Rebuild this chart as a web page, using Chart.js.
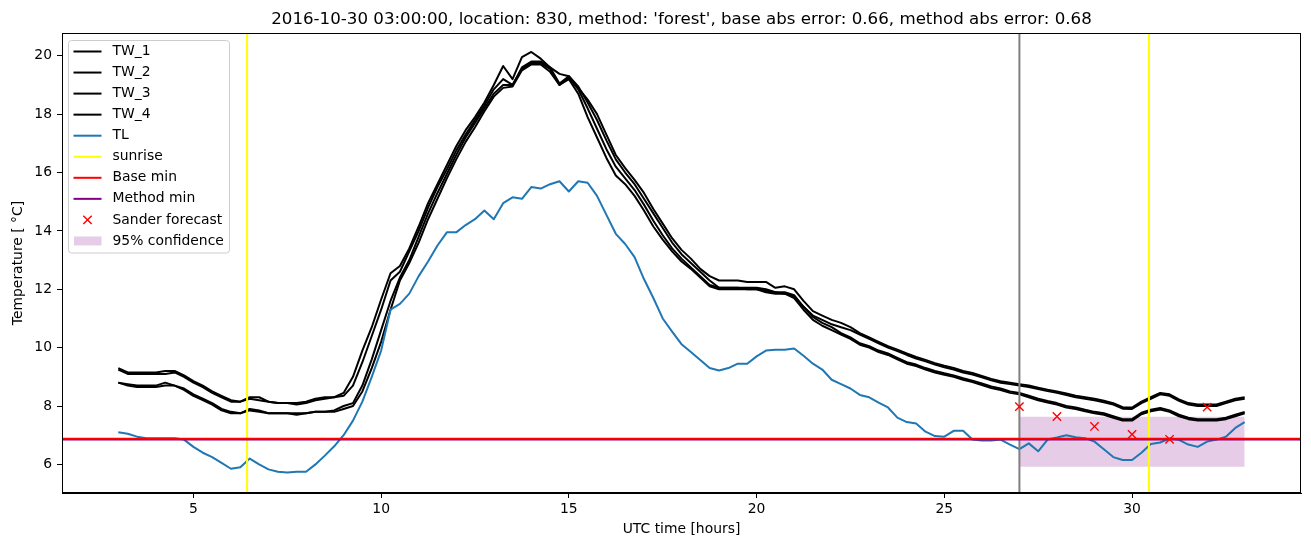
<!DOCTYPE html>
<html>
<head>
<meta charset="utf-8">
<title>Road temperature forecast</title>
<script src="https://cdn.jsdelivr.net/npm/chart.js@4.4.0/dist/chart.umd.min.js"></script>
<style>
html, body { margin: 0; padding: 0; background: #fff; }
#wrap { width: 1311px; height: 547px; }
</style>
</head>
<body>
<div id="wrap"><canvas id="chart" width="1311" height="547"></canvas></div>
<script>
// 15 minute samples, 03:00 .. 33:00 UTC hours
const hours = Array.from({length: 121}, (_, i) => 3 + i * 0.25);

const tw1 = [9.3,9.15,9.15,9.15,9.15,9.2,9.2,9.05,8.85,8.7,8.5,8.35,8.2,8.15,8.3,8.3,8.15,8.1,8.1,8.1,8.15,8.25,8.3,8.3,8.45,
  9.0,9.9,10.7,11.65,12.55,12.8,13.4,14.15,14.95,15.6,16.25,16.9,17.45,17.9,18.4,19.0,19.65,19.2,19.95,20.13,19.9,19.6,19.38,19.3,18.9,
  18.5,18.0,17.3,16.6,16.15,15.75,15.3,14.75,14.25,13.75,13.35,13.05,12.7,12.45,12.3,12.3,12.3,12.25,12.25,12.25,12.05,12.1,12.0,11.6,11.25,
  11.1,10.95,10.85,10.7,10.5,10.35,10.2,10.05,9.93,9.8,9.68,9.58,9.47,9.38,9.3,9.2,9.13,9.03,8.93,8.85,8.8,8.75,8.7,8.63,8.56,
  8.5,8.43,8.35,8.3,8.25,8.18,8.1,7.96,7.95,8.15,8.3,8.45,8.4,8.23,8.1,8.05,8.05,8.05,8.15,8.25,8.3];
const tw2 = [9.25,9.1,9.1,9.1,9.1,9.1,9.15,9.0,8.8,8.65,8.45,8.3,8.15,8.15,8.25,8.2,8.15,8.1,8.1,8.05,8.1,8.2,8.25,8.3,8.35,
  8.7,9.5,10.4,11.3,12.3,12.6,13.3,14.0,14.8,15.5,16.1,16.75,17.3,17.8,18.3,18.85,19.2,19.0,19.6,19.8,19.8,19.6,19.05,19.3,18.95,
  18.4,17.8,17.1,16.45,16.0,15.6,15.1,14.6,14.1,13.6,13.2,12.9,12.6,12.3,12.05,12.05,12.05,12.05,12.05,12.0,11.9,11.9,11.8,11.4,11.1,
  10.95,10.8,10.7,10.6,10.45,10.3,10.15,10.0,9.88,9.75,9.63,9.53,9.42,9.33,9.25,9.15,9.08,8.98,8.88,8.8,8.75,8.7,8.65,8.58,8.51,
  8.45,8.38,8.3,8.25,8.2,8.13,8.05,7.91,7.9,8.1,8.25,8.4,8.35,8.18,8.05,8.0,8.0,8.0,8.1,8.2,8.25];
const tw3 = [8.8,8.75,8.7,8.7,8.7,8.8,8.7,8.6,8.4,8.25,8.1,7.9,7.8,7.75,7.9,7.85,7.75,7.75,7.75,7.75,7.75,7.8,7.8,7.85,8.0,
  8.1,8.7,9.6,10.6,11.6,12.4,13.0,13.8,14.6,15.3,15.95,16.6,17.2,17.7,18.2,18.7,19.0,19.0,19.55,19.75,19.75,19.55,19.0,19.25,18.85,
  18.2,17.5,16.8,16.2,15.8,15.4,14.9,14.35,13.85,13.4,13.05,12.75,12.45,12.15,12.05,12.05,12.05,12.0,12.0,11.95,11.9,11.85,11.75,11.4,11.05,
  10.85,10.7,10.5,10.35,10.15,10.05,9.9,9.8,9.65,9.5,9.42,9.3,9.2,9.12,9.05,8.95,8.87,8.77,8.67,8.6,8.5,8.45,8.35,8.25,8.17,
  8.1,8.0,7.95,7.87,7.8,7.75,7.65,7.55,7.55,7.77,7.87,7.93,7.85,7.7,7.6,7.55,7.55,7.55,7.6,7.7,7.8];
const tw4 = [8.8,8.7,8.65,8.65,8.65,8.7,8.7,8.55,8.35,8.2,8.05,7.85,7.75,7.75,7.85,7.8,7.75,7.75,7.75,7.7,7.75,7.8,7.8,7.8,7.9,
  8.0,8.5,9.3,10.2,11.3,12.3,12.9,13.6,14.4,15.1,15.8,16.45,17.05,17.55,18.1,18.6,18.9,18.95,19.5,19.7,19.7,19.45,19.0,19.2,18.7,
  17.9,17.2,16.5,15.9,15.6,15.2,14.7,14.15,13.7,13.3,12.95,12.7,12.4,12.1,12.0,12.0,12.0,12.0,12.0,11.9,11.85,11.85,11.7,11.3,10.95,
  10.75,10.6,10.45,10.3,10.1,10.0,9.85,9.75,9.6,9.45,9.37,9.25,9.15,9.07,9.0,8.9,8.82,8.72,8.62,8.55,8.45,8.4,8.3,8.2,8.12,
  8.05,7.95,7.9,7.82,7.75,7.7,7.6,7.5,7.5,7.72,7.82,7.88,7.8,7.65,7.55,7.5,7.5,7.5,7.55,7.65,7.75];
const tl = [7.1,7.05,6.95,6.9,6.9,6.9,6.9,6.85,6.6,6.4,6.25,6.05,5.85,5.9,6.2,6.0,5.83,5.75,5.72,5.75,5.75,6.0,6.3,6.62,7.0,
  7.5,8.15,9.0,9.9,11.3,11.5,11.85,12.45,12.95,13.5,13.95,13.95,14.2,14.4,14.7,14.4,14.95,15.15,15.1,15.5,15.45,15.6,15.7,15.35,15.7,
  15.65,15.2,14.55,13.9,13.55,13.1,12.35,11.7,11.0,10.55,10.12,9.85,9.58,9.3,9.22,9.3,9.45,9.45,9.7,9.9,9.93,9.93,9.97,9.72,9.45,
  9.25,8.9,8.75,8.6,8.38,8.3,8.12,7.95,7.6,7.45,7.4,7.12,6.97,6.95,7.15,7.15,6.85,6.82,6.82,6.85,6.68,6.52,6.72,6.45,6.85,
  6.92,7.0,6.93,6.9,6.78,6.52,6.25,6.15,6.15,6.4,6.7,6.75,6.89,6.84,6.68,6.6,6.78,6.85,6.95,7.25,7.45];

const sunriseHours = [6.43, 30.45];
const forecastStart = 27.0;
const baseMin = 6.88;
const methodMin = 6.85;

const forecastHours = [27, 28, 29, 30, 31, 32];
const forecastTemps = [7.98, 7.64, 7.30, 7.03, 6.86, 7.96];

const bandHours = [27, 33];
const bandLow = [5.92, 5.92];
const bandHigh = [7.63, 7.63];

const xTicks = [5, 10, 15, 20, 25, 30];
const yTicks = [6, 8, 10, 12, 14, 16, 18, 20];

const X_MIN = 1.5, X_MAX = 34.5, Y_MIN = 5.02, Y_MAX = 20.78;
const FONT = 'DejaVu Sans';

function pts(xs, ys){ return xs.map((x, i) => ({x: x, y: ys[i]})); }
function vline(x){ return [{x: x, y: Y_MIN}, {x: x, y: Y_MAX}]; }
function hline(y){ return [{x: X_MIN, y: y}, {x: X_MAX, y: y}]; }

function line(label, data, color, order, rank){
  return {label: label, data: data, borderColor: color, backgroundColor: color, borderWidth: 2,
    pointRadius: 0, fill: false, order: order, legendRank: rank, borderJoinStyle: 'round'};
}

const datasets = [
  {label: 'band low', data: pts(bandHours, bandLow), borderWidth: 0, pointRadius: 0, fill: false, order: 30},
  {label: '95% confidence', data: pts(bandHours, bandHigh), borderWidth: 0, pointRadius: 0,
    fill: 0, backgroundColor: 'rgba(128,0,128,0.2)', order: 30, legendRank: 9, legendPatch: true},
  line('TW_1', pts(hours, tw1), '#000000', 10, 0),
  line('TW_2', pts(hours, tw2), '#000000', 10, 1),
  line('TW_3', pts(hours, tw3), '#000000', 10, 2),
  line('TW_4', pts(hours, tw4), '#000000', 10, 3),
  line('TL', pts(hours, tl), '#1f77b4', 9, 4),
  line('sunrise', vline(sunriseHours[0]), '#ffff00', 8, 5),
  line('sunrise 2', vline(sunriseHours[1]), '#ffff00', 8, null),
  line('Base min', hline(baseMin), '#ff0000', 6, 6),
  line('Method min', hline(methodMin), '#800080', 7, 7),
  line('start', vline(forecastStart), '#808080', 8, null),
  {label: 'Sander forecast', data: pts(forecastHours, forecastTemps), showLine: false,
    pointStyle: 'crossRot', pointRadius: 5.9, pointBorderColor: '#ff0000', pointBackgroundColor: '#ff0000',
    pointBorderWidth: 1.4, borderColor: '#ff0000', order: 1, legendRank: 8}
];

// axes frame (all four spines) and title
const frame = {
  id: 'frame',
  afterDatasetsDraw(chart){
    const {ctx, chartArea: a} = chart;
    ctx.save();
    ctx.strokeStyle = '#000';
    ctx.lineWidth = 1;
    ctx.strokeRect(Math.round(a.left) + 0.5, Math.round(a.top) + 0.5,
      Math.round(a.right - a.left) - 1, Math.round(a.bottom - a.top) - 1);
    ctx.fillStyle = '#000';
    ctx.font = '16.67px "' + FONT + '"';
    ctx.textAlign = 'center';
    ctx.textBaseline = 'alphabetic';
    ctx.fillText("2016-10-30 03:00:00, location: 830, method: 'forest', base abs error: 0.66, method abs error: 0.68",
      (a.left + a.right) / 2, a.top - 9);
    ctx.restore();
  }
};

// matplotlib style legend in the upper left corner
const legendBox = {
  id: 'legendBox',
  afterDraw(chart){
    const {ctx, chartArea: a} = chart;
    const items = chart.data.datasets.filter(d => d.legendRank != null)
      .sort((p, q) => p.legendRank - q.legendRank);
    const left = a.left + 6.5, top = a.top + 7.5, w = 161, h = 212.5, r = 3, rowH = 21.05;
    ctx.save();
    ctx.beginPath();
    ctx.moveTo(left + r, top);
    ctx.arcTo(left + w, top, left + w, top + h, r);
    ctx.arcTo(left + w, top + h, left, top + h, r);
    ctx.arcTo(left, top + h, left, top, r);
    ctx.arcTo(left, top, left + w, top, r);
    ctx.closePath();
    ctx.fillStyle = 'rgba(255,255,255,0.8)';
    ctx.fill();
    ctx.strokeStyle = '#cccccc';
    ctx.lineWidth = 1;
    ctx.stroke();
    ctx.font = '13.9px "' + FONT + '"';
    ctx.textBaseline = 'middle';
    ctx.textAlign = 'left';
    items.forEach((d, i) => {
      const cy = top + 11 + i * rowH;
      const hx0 = left + 5, hx1 = left + 33;
      if (d.legendPatch){
        ctx.fillStyle = d.backgroundColor;
        ctx.fillRect(hx0 + 0.5, cy - 4.5, 27.5, 9);
      } else if (d.showLine === false){
        const cx = (hx0 + hx1) / 2, s = 4.2;
        ctx.strokeStyle = d.pointBorderColor;
        ctx.lineWidth = 1.4;
        ctx.beginPath();
        ctx.moveTo(cx - s, cy - s); ctx.lineTo(cx + s, cy + s);
        ctx.moveTo(cx - s, cy + s); ctx.lineTo(cx + s, cy - s);
        ctx.stroke();
      } else {
        ctx.strokeStyle = d.borderColor;
        ctx.lineWidth = 2;
        ctx.beginPath();
        ctx.moveTo(hx0, cy); ctx.lineTo(hx1, cy);
        ctx.stroke();
      }
      ctx.fillStyle = '#000';
      ctx.fillText(d.label, left + 44, cy);
    });
    ctx.restore();
  }
};

const tickFont = {family: FONT, size: 13.9};

new Chart(document.getElementById('chart').getContext('2d'), {
  type: 'line',
  data: {datasets: datasets},
  options: {
    responsive: false,
    animation: false,
    devicePixelRatio: 1,
    events: [],
    layout: {padding: {top: 33, right: 10, left: 0, bottom: 0}},
    plugins: {legend: {display: false}, tooltip: {enabled: false}, title: {display: false}},
    scales: {
      x: {
        type: 'linear', min: X_MIN, max: X_MAX,
        afterBuildTicks: s => { s.ticks = xTicks.map(v => ({value: v})); },
        ticks: {color: '#000', font: tickFont, padding: 3, maxRotation: 0, autoSkip: false},
        grid: {display: true, drawOnChartArea: false, drawTicks: true, tickLength: 5, color: '#000'},
        border: {display: true, color: '#000', width: 1},
        title: {display: true, text: 'UTC time [hours]', color: '#000', font: tickFont, padding: {top: 0, bottom: 9}},
        afterFit: s => { s.height = 54; }
      },
      y: {
        type: 'linear', min: Y_MIN, max: Y_MAX,
        afterBuildTicks: s => { s.ticks = yTicks.map(v => ({value: v})); },
        ticks: {color: '#000', font: tickFont, padding: 5},
        grid: {display: true, drawOnChartArea: false, drawTicks: true, tickLength: 5, color: '#000'},
        border: {display: true, color: '#000', width: 1},
        title: {display: true, text: 'Temperature [ °C]', color: '#000', font: tickFont, padding: {top: 10, bottom: 0}},
        afterFit: s => { s.width = 62; }
      }
    }
  },
  plugins: [frame, legendBox]
});
</script>
</body>
</html>
